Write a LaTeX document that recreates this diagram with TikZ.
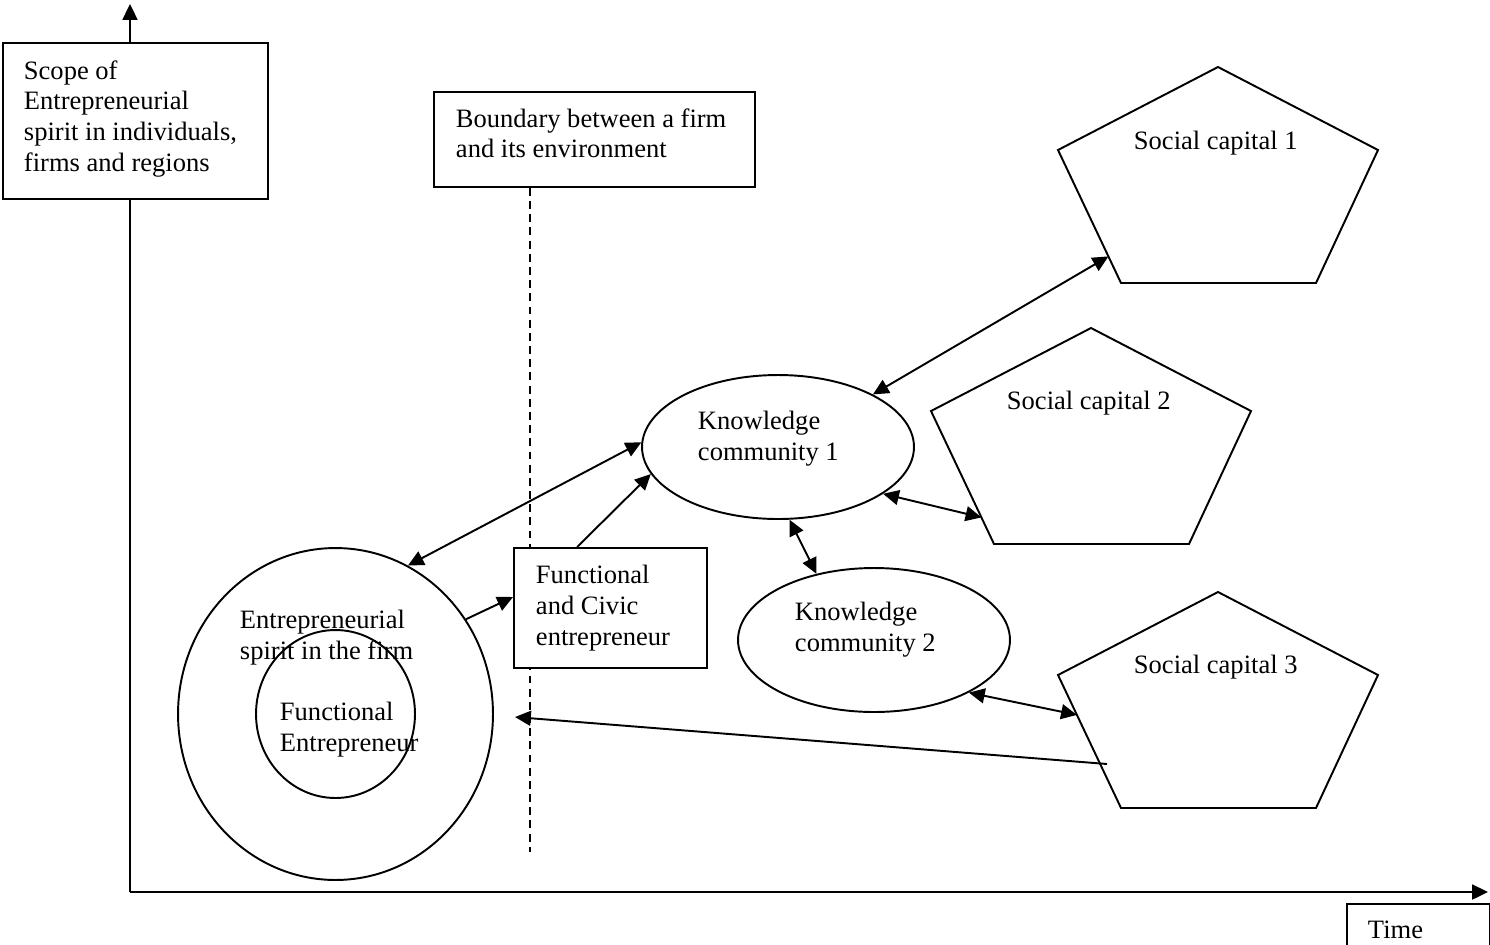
\documentclass[tikz,border=0pt]{standalone}
\usepackage{fontspec}
\setmainfont{Liberation Serif}
\usetikzlibrary{shapes.geometric,arrows.meta,calc}
\newcommand{\ml}[1]{\begin{tabular}[t]{@{}l@{}}#1\end{tabular}}
\begin{document}
\begin{tikzpicture}[x=0.02cm,y=-0.02cm,
  line width=1.1pt,
  every node/.style={font=\fontsize{15.1}{17.64}\selectfont},
  lbl/.style={anchor=base west,inner sep=0pt},
  box/.style={draw,fill=white,rectangle,inner sep=0pt},
  ell/.style={draw,ellipse,inner sep=0pt},
  tip/.tip={Triangle[length=9pt,width=8.5pt]},
  arr/.style={-tip},
  darr/.style={tip-tip},
  bnddash/.style={dash pattern=on 4.5pt off 3pt,line width=1pt}
]
\useasboundingbox (0,0) rectangle (1490,944);
\clip (0,0) rectangle (1490,944);

% axes
\coordinate (o) at (130,892);
\coordinate (ytop) at (130,4);
\coordinate (xend) at (1488,892);
\draw[arr] (o) -- (ytop);
\draw[arr] (o) -- (xend);

% boundary
\coordinate (d2) at (530,852);
\node[box,minimum width=6.42cm,minimum height=1.9cm] (bnd) at (594.5,139.5) {};
\draw[bnddash] (bnd.south -| d2) -- (d2);

% boxes
\node[box,minimum width=5.3cm,minimum height=3.12cm] (scope) at (135.5,121) {};
\node[box,minimum width=3.86cm,minimum height=2.4cm] (fc) at (610.5,608) {};
\node[box,anchor=north west,minimum width=2.86cm,minimum height=1.6cm] (time) at (1346,903) {};

% circles / ellipses
\node[ell,minimum width=6.3cm,minimum height=6.64cm] (big) at (335.5,714) {};
\node[ell,minimum width=3.18cm,minimum height=3.36cm] (inner) at (335.5,714) {};
\node[ell,minimum width=5.44cm,minimum height=2.88cm] (kc1) at (778,447) {};
\node[ell,minimum width=5.44cm,minimum height=2.88cm] (kc2) at (874,640) {};

% pentagons
\draw (1218,67) -- (1378,150) -- (1316,283) -- (1121,283) -- (1058,150) -- cycle;
\path (1058,150) -- coordinate[pos=0.8] (sc1e) (1121,283);
\draw (1091,328) -- (1251,411) -- (1189,544) -- (994,544) -- (931,411) -- cycle;
\path (931,411) -- coordinate[pos=0.8] (sc2e) (994,544);
\draw (1218,592) -- (1378,675) -- (1316,808) -- (1121,808) -- (1058,675) -- cycle;
\path (1058,675) -- coordinate[pos=0.3] (sc3e) (1121,808);
\coordinate (sc3s) at (1107,764);
\coordinate (ltip) at (515,717);

% connectors
\draw[darr] (kc1.178) -- (big.64);
\draw[arr] (big.36) -- ($(fc.west)+(0,-11)$);
\draw[arr] ($(fc.north west)+(64,0)$) -- (kc1.192);
\draw[darr] (kc1.29) -- (sc1e);
\draw[darr] (kc1.-24) -- (sc2e);
\draw[darr] (kc1.-81) -- (kc2.131);
\draw[darr] (kc2.-29.5) -- (sc3e);
\draw[arr] (sc3s) -- (ltip);

% texts
\node[lbl] (scopet) at (23,79) {\ml{Scope of\\Entrepreneurial\\spirit in individuals,\\firms and regions}};
\node[lbl] (bndt) at (455,127) {\ml{Boundary between a firm\\and its environment}};
\node[lbl] (sc1t) at (1133,149) {Social capital 1};
\node[lbl] (sc2t) at (1006,409) {Social capital 2};
\node[lbl] (sc3t) at (1133,673) {Social capital 3};
\node[lbl] (kc1t) at (697,429) {\ml{Knowledge\\community 1}};
\node[lbl] (kc2t) at (794,620) {\ml{Knowledge\\community 2}};
\node[lbl] (fct) at (535,583) {\ml{Functional\\and Civic\\entrepreneur}};
\node[lbl] (bigt) at (239,628) {\ml{Entrepreneurial\\spirit in the firm}};
\node[lbl] (innert) at (279,720) {\ml{Functional\\Entrepreneur}};
\node[lbl] (timet) at (1367,938) {Time};
\end{tikzpicture}
\end{document}
